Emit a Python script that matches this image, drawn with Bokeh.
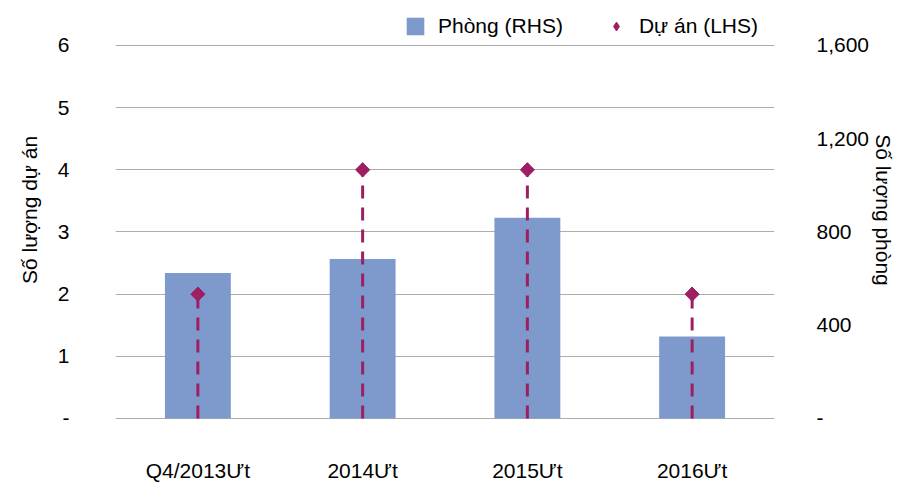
import math
from bokeh.plotting import figure
from bokeh.models import (Range1d, LinearAxis, FixedTicker, NumeralTickFormatter,
                          Legend, LegendItem, FactorRange)
from bokeh.embed import file_html
from bokeh.resources import INLINE

categories = ["Q4/2013Ưt", "2014Ưt", "2015Ưt", "2016Ưt"]
rooms = [624, 684, 861, 352]          # Phòng (RHS)
projects = [2, 4, 4, 2]               # Dự án (LHS)
left_ticks = [0, 1, 2, 3, 4, 5, 6]
right_ticks = [0, 400, 800, 1200, 1600]

FONT = "Liberation Sans"
FS = "21px"
BAR = "#7E99CB"
DOT = "#9E1E62"

Y0, Y1 = -0.0161, 6.7238            # frame extends above 6 to host the legend
K = 1600 / 6

p = figure(width=898, height=484,
           x_range=FactorRange(*categories, range_padding=0),
           y_range=Range1d(Y0, Y1),
           output_backend="svg", toolbar_location=None,
           min_border_left=115, min_border_right=124,
           min_border_top=0, min_border_bottom=65)
p.extra_y_ranges = {"rooms": Range1d(Y0 * K, Y1 * K)}
p.outline_line_color = None
p.background_fill_color = "white"
p.border_fill_color = "white"

bars = p.vbar(x=categories, top=rooms, width=0.4, y_range_name="rooms",
              fill_color=BAR, line_color=None)
p.segment(x0=categories, y0=0, x1=categories, y1=projects,
          line_color=DOT, line_width=3, line_dash="13 9")
# diamond used as legend swatch; hidden underneath the rotated squares
key = p.scatter(x=categories, y=projects, marker="diamond", size=14,
                fill_color=DOT, line_color=DOT)
p.scatter(x=categories, y=projects, marker="square", size=10,
          angle=math.pi / 4, fill_color=DOT, line_color=DOT)

# left axis
la = p.yaxis[0]
la.ticker = FixedTicker(ticks=left_ticks)
la.major_label_overrides = {0: "-"}
la.axis_label = "Số lượng dự án"

# right axis
ra = LinearAxis(y_range_name="rooms", ticker=FixedTicker(ticks=right_ticks),
                formatter=NumeralTickFormatter(format="0,0"),
                axis_label="Số lượng phòng")
ra.major_label_overrides = {0: "-"}
p.add_layout(ra, "right")

for ax in [la, ra]:
    ax.axis_line_color = None
    ax.major_tick_line_color = None
    ax.minor_tick_line_color = None
    ax.major_label_text_font = FONT
    ax.major_label_text_font_size = FS
    ax.major_label_text_color = "#000000"
    ax.axis_label_text_font = FONT
    ax.axis_label_text_font_size = FS
    ax.axis_label_text_font_style = "normal"
    ax.axis_label_text_color = "#000000"
la.major_label_standoff = 40
la.axis_label_standoff = 14
ra.major_label_standoff = 36
ra.axis_label_standoff = 0

xa = p.xaxis[0]
xa.axis_line_color = None
xa.major_tick_line_color = None
xa.major_label_text_font = FONT
xa.major_label_text_font_size = FS
xa.major_label_text_color = "#000000"
xa.major_label_standoff = 33

p.xgrid.grid_line_color = None
p.ygrid.ticker = FixedTicker(ticks=left_ticks)
p.ygrid.grid_line_color = "#ADADAD"
p.ygrid.grid_line_width = 1

legend = Legend(items=[LegendItem(label="Phòng (RHS)", renderers=[bars]),
                       LegendItem(label="Dự án (LHS)", renderers=[key])],
                orientation="horizontal", location=(289, 381),
                margin=0, padding=4, spacing=42,
                glyph_width=22, glyph_height=22, label_standoff=12,
                border_line_color=None, background_fill_alpha=0,
                label_text_font=FONT, label_text_font_size=FS,
                label_text_color="#000000")
p.add_layout(legend, "center")

open("out.html", "w").write(file_html(p, INLINE))
